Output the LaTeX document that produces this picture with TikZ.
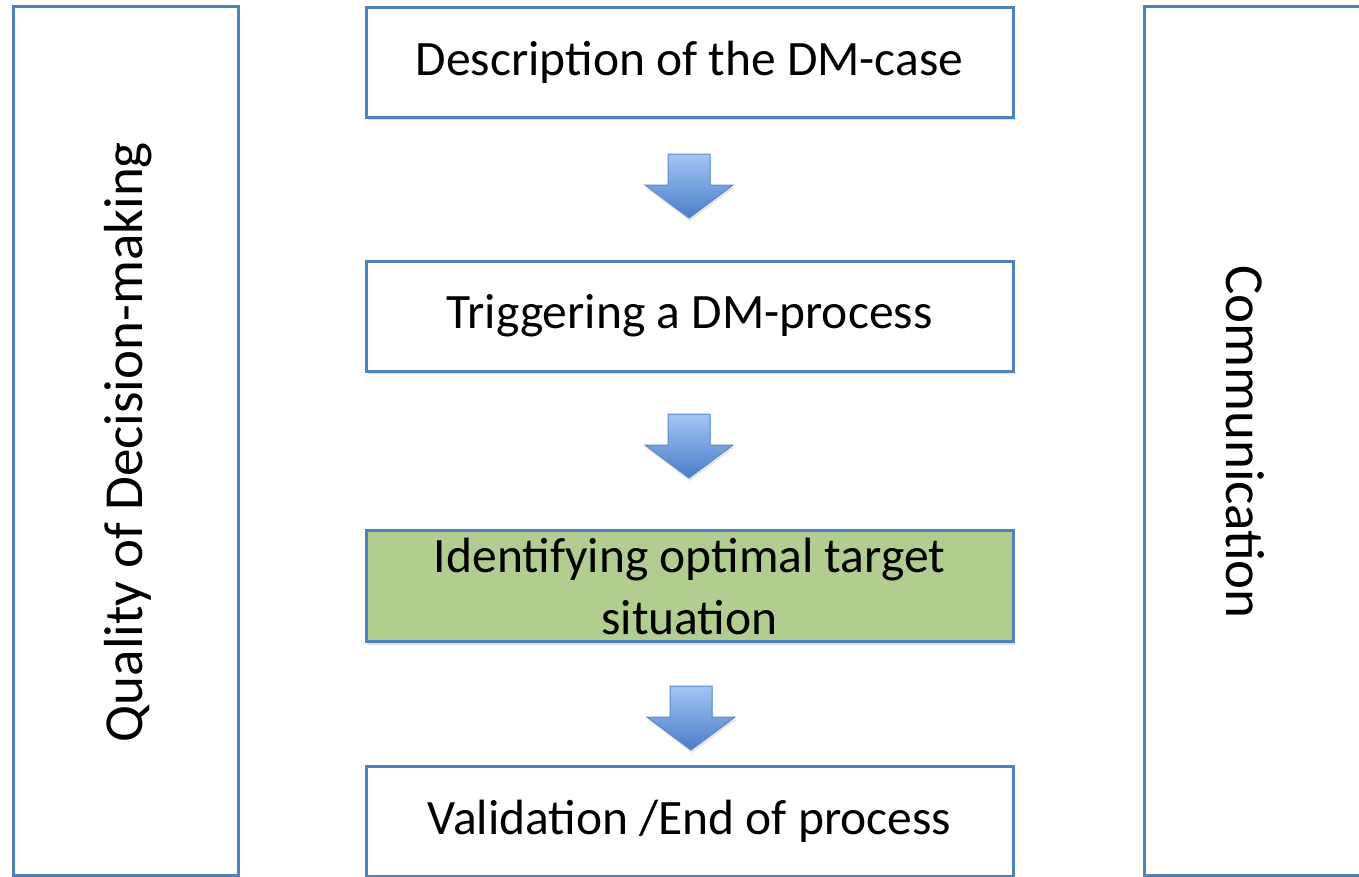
\documentclass[tikz,border=0pt]{standalone}
\usepackage{fontspec}
\setmainfont{Carlito}
\usetikzlibrary{shadows,calc}
\definecolor{boxblue}{HTML}{4F81BD}
\definecolor{boxgreen}{HTML}{B1CD8F}
\definecolor{arrtop}{HTML}{A3C6F5}
\definecolor{arrbot}{HTML}{4A7DC8}
\definecolor{arrline}{HTML}{5A88C8}
\tikzset{
  panel/.style={draw=boxblue, line width=3pt, fill=white, drop shadow={opacity=0.25, shadow xshift=2pt, shadow yshift=-3pt}},
  stepbox/.style={panel, minimum width=647pt, minimum height=110pt, inner sep=0pt, font=\fontsize{49.5}{62}\selectfont, align=center},
  sidelabel/.style={font=\fontsize{55}{66}\selectfont},
  blockarrow/.style={draw=arrline, line width=1pt, top color=arrtop, bottom color=arrbot, drop shadow={opacity=0.2, shadow xshift=1pt, shadow yshift=-3pt}}
}
\begin{document}
\begin{tikzpicture}[x=1pt,y=-1pt]
\useasboundingbox (0,0) rectangle (1359,876);
\clip (0,0) rectangle (1359,876);
% side panels
\node[panel, minimum width=225pt, minimum height=869pt, inner sep=0pt] (left) at (125.5,440.5) {};
\node[panel, minimum width=240pt, minimum height=869pt, inner sep=0pt] (right) at (1264,440.5) {};
\node[sidelabel, rotate=90] (lefttext) at (128,442) {Quality of Decision-making};
\node[sidelabel, rotate=-90] (righttext) at (1245,442) {Communication};
% steps
\node[stepbox] (s1) at (689.5,62) {\raisebox{-3pt}{Description of the DM-case}};
\node[stepbox] (s2) at (689.5,316) {\raisebox{-2pt}{Triggering a DM-process}};
\node[stepbox, fill=boxgreen, minimum height=111pt] (s3) at (689.5,586) {Identifying optimal target\\situation};
\node[stepbox] (s4) at (689.5,821) {\raisebox{-2pt}{Validation /End of process}};
% block arrows
\foreach \cx/\ty/\hy/\by in {689/154/185/218, 689/414/445/478, 691/686/717/750}{
  \path[blockarrow] (\cx-21,\ty) -- (\cx+21,\ty) -- (\cx+21,\hy) -- (\cx+44,\hy) -- (\cx,\by) -- (\cx-44,\hy) -- (\cx-21,\hy) -- cycle;
}
\end{tikzpicture}
\end{document}
